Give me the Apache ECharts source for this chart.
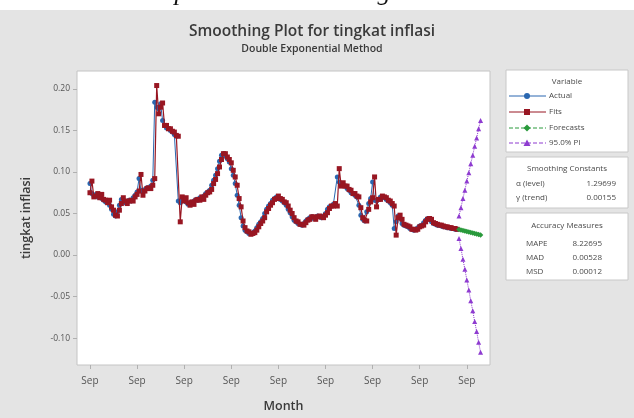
<!DOCTYPE html>
<html>
<head>
<meta charset="utf-8">
<script src="https://cdn.jsdelivr.net/npm/echarts@6/dist/echarts.min.js"></script>
<style>
  html, body { margin: 0; padding: 0; background: #ffffff; }
  #chart { width: 634px; height: 418px; }
</style>
</head>
<body>
<div id="chart"></div>
<script>
// Monthly inflation rate (tingkat inflasi), index 1..188, then 12 forecast months
const actual = [
  0.086, 0.074, 0.071, 0.073, 0.070, 0.072, 0.068, 0.066, 0.064, 0.065,
  0.060, 0.055, 0.049, 0.047, 0.052, 0.060, 0.067, 0.066, 0.063, 0.064,
  0.066, 0.065, 0.069, 0.072, 0.076, 0.092, 0.078, 0.076, 0.079, 0.081,
  0.080, 0.083, 0.090, 0.184, 0.178, 0.176, 0.182, 0.162, 0.156, 0.153,
  0.152, 0.150, 0.148, 0.145, 0.143, 0.065, 0.063, 0.066, 0.068, 0.064,
  0.061, 0.063, 0.062, 0.065, 0.067, 0.066, 0.069, 0.068, 0.071, 0.074,
  0.076, 0.078, 0.084, 0.090, 0.096, 0.104, 0.113, 0.120, 0.122, 0.119,
  0.116, 0.112, 0.104, 0.096, 0.086, 0.072, 0.060, 0.045, 0.035, 0.030,
  0.028, 0.026, 0.026, 0.027, 0.029, 0.033, 0.037, 0.040, 0.044, 0.050,
  0.055, 0.059, 0.062, 0.066, 0.068, 0.070, 0.069, 0.067, 0.065, 0.063,
  0.060, 0.055, 0.051, 0.046, 0.042, 0.040, 0.038, 0.037, 0.036, 0.038,
  0.041, 0.043, 0.045, 0.046, 0.044, 0.045, 0.047, 0.046, 0.045, 0.047,
  0.050, 0.055, 0.058, 0.059, 0.061, 0.060, 0.094, 0.088, 0.086, 0.084,
  0.083, 0.080, 0.078, 0.075, 0.074, 0.072, 0.070, 0.060, 0.048, 0.043,
  0.041, 0.052, 0.062, 0.068, 0.088, 0.066, 0.065, 0.067, 0.070, 0.070,
  0.069, 0.067, 0.065, 0.063, 0.060, 0.032, 0.040, 0.047, 0.044, 0.038,
  0.036, 0.035, 0.034, 0.032, 0.031, 0.030, 0.031, 0.033, 0.035, 0.036,
  0.039, 0.042, 0.044, 0.043, 0.040, 0.038, 0.037, 0.036, 0.036, 0.035,
  0.034, 0.034, 0.033, 0.033, 0.032, 0.032, 0.031, 0.031
];

const fits = [
  0.075, 0.089, 0.070, 0.071, 0.074, 0.069, 0.073, 0.067, 0.066, 0.063,
  0.066, 0.058, 0.054, 0.048, 0.047, 0.054, 0.062, 0.069, 0.065, 0.062,
  0.065, 0.066, 0.065, 0.070, 0.073, 0.077, 0.097, 0.072, 0.077, 0.080,
  0.081, 0.080, 0.084, 0.092, 0.204, 0.170, 0.178, 0.183, 0.156, 0.156,
  0.152, 0.152, 0.149, 0.148, 0.144, 0.143, 0.040, 0.070, 0.065, 0.069,
  0.063, 0.060, 0.064, 0.061, 0.066, 0.067, 0.066, 0.070, 0.067, 0.072,
  0.075, 0.076, 0.079, 0.086, 0.091, 0.098, 0.106, 0.115, 0.122, 0.122,
  0.118, 0.115, 0.111, 0.102, 0.094, 0.084, 0.068, 0.058, 0.041, 0.033,
  0.029, 0.028, 0.025, 0.026, 0.027, 0.030, 0.034, 0.038, 0.041, 0.045,
  0.052, 0.056, 0.060, 0.063, 0.067, 0.068, 0.071, 0.068, 0.067, 0.064,
  0.063, 0.059, 0.054, 0.050, 0.045, 0.041, 0.040, 0.037, 0.037, 0.036,
  0.039, 0.042, 0.043, 0.046, 0.046, 0.043, 0.046, 0.047, 0.046, 0.045,
  0.048, 0.051, 0.056, 0.059, 0.059, 0.062, 0.059, 0.104, 0.083, 0.087,
  0.083, 0.083, 0.079, 0.078, 0.074, 0.074, 0.071, 0.070, 0.057, 0.045,
  0.042, 0.041, 0.055, 0.064, 0.069, 0.094, 0.058, 0.067, 0.067, 0.071,
  0.070, 0.069, 0.066, 0.065, 0.062, 0.059, 0.024, 0.045, 0.048, 0.043,
  0.037, 0.036, 0.035, 0.034, 0.031, 0.031, 0.030, 0.031, 0.034, 0.035,
  0.036, 0.040, 0.043, 0.044, 0.043, 0.039, 0.038, 0.037, 0.036, 0.036,
  0.035, 0.034, 0.034, 0.033, 0.033, 0.032, 0.032, 0.031
];

const forecasts = [0.0308, 0.0302, 0.0296, 0.0290, 0.0284, 0.0278, 0.0272, 0.0266, 0.0260, 0.0254, 0.0248, 0.0242];
const piUpper   = [0.047, 0.057, 0.068, 0.078, 0.089, 0.099, 0.110, 0.120, 0.131, 0.141, 0.152, 0.162];
const piLower   = [0.020, 0.008, -0.005, -0.017, -0.030, -0.042, -0.055, -0.067, -0.080, -0.092, -0.105, -0.117];

// Time axis: a "Sep" label every 24 months
const xTickPositions = [1, 25, 49, 73, 97, 121, 145, 169, 193];
const xTickLabels = ['Sep', 'Sep', 'Sep', 'Sep', 'Sep', 'Sep', 'Sep', 'Sep', 'Sep'];
const yTicks = [-0.10, -0.05, 0.00, 0.05, 0.10, 0.15, 0.20];

const smoothingConstants = [['α (level)', '1.29699'], ['γ (trend)', '0.00155']];
const accuracyMeasures = [['MAPE', '8.22695'], ['MAD', '0.00528'], ['MSD', '0.00012']];

const C_ACTUAL = '#2a67b0';
const C_FITS = '#981622';
const C_FC = '#2a9a3c';
const C_PI = '#8e3bd0';
const TXT = '#4a4a4a';

const nObs = actual.length;
const actualData = actual.map((v, i) => [i + 1, v]);
const fitsData = fits.map((v, i) => [i + 1, v]);
const fcData = forecasts.map((v, i) => [nObs + 1 + i, v]);
const upData = piUpper.map((v, i) => [nObs + 1 + i, v]);
const loData = piLower.map((v, i) => [nObs + 1 + i, v]);

const chart = echarts.init(document.getElementById('chart'));

const FONT = "'Open Sans', 'Noto Sans', sans-serif";

// Legend panel pieces
const LX = 506, LW = 122;
const graphics = [];
// grey page
graphics.push({ type: 'rect', z: -10, silent: true, shape: { x: 0, y: 10, width: 634, height: 408 }, style: { fill: '#e4e4e4' } });
// caption above the panel
graphics.push({ type: 'text', z: 5, x: 310, y: 6, style: { text: 'Plot Exponential Smoothing Holt Winter.', font: "italic 26px 'Liberation Serif', serif", fill: '#111', align: 'center', verticalAlign: 'bottom' } });
// titles
graphics.push({ type: 'text', x: 312, y: 32, style: { text: 'Smoothing Plot for tingkat inflasi', font: "600 15.5px " + FONT, fill: '#3a3a3a', align: 'center', verticalAlign: 'middle' } });
graphics.push({ type: 'text', x: 312, y: 49, style: { text: 'Double Exponential Method', font: "600 10.5px " + FONT, fill: '#3a3a3a', align: 'center', verticalAlign: 'middle' } });

// Variable box
graphics.push({ type: 'rect', shape: { x: LX, y: 70, width: LW, height: 82 }, style: { fill: '#fff', stroke: '#c8c8c8', lineWidth: 1 } });
graphics.push({ type: 'text', x: LX + LW / 2, y: 82, style: { text: 'Variable', font: '8px ' + FONT, fill: TXT, align: 'center', verticalAlign: 'middle' } });
const legendRows = [
  { name: 'Actual', color: C_ACTUAL, dash: null, sym: 'circle', y: 96 },
  { name: 'Fits', color: C_FITS, dash: null, sym: 'rect', y: 112 },
  { name: 'Forecasts', color: C_FC, dash: [4, 2], sym: 'diamond', y: 128 },
  { name: '95.0% PI', color: C_PI, dash: [4, 2], sym: 'triangle', y: 143 }
];
legendRows.forEach(r => {
  graphics.push({ type: 'line', shape: { x1: LX + 3, y1: r.y, x2: LX + 40, y2: r.y }, style: { stroke: r.color, lineWidth: 1, lineDash: r.dash } });
  const cx = LX + 21, cy = r.y;
  if (r.sym === 'circle') graphics.push({ type: 'circle', shape: { cx, cy, r: 3 }, style: { fill: r.color } });
  if (r.sym === 'rect') graphics.push({ type: 'rect', shape: { x: cx - 3, y: cy - 3, width: 6, height: 6 }, style: { fill: r.color } });
  if (r.sym === 'diamond') graphics.push({ type: 'polygon', shape: { points: [[cx, cy - 3.5], [cx + 3.5, cy], [cx, cy + 3.5], [cx - 3.5, cy]] }, style: { fill: r.color } });
  if (r.sym === 'triangle') graphics.push({ type: 'polygon', shape: { points: [[cx, cy - 3.5], [cx + 3.5, cy + 3], [cx - 3.5, cy + 3]] }, style: { fill: r.color } });
  graphics.push({ type: 'text', x: LX + 43, y: r.y, style: { text: r.name, font: '8px ' + FONT, fill: TXT, align: 'left', verticalAlign: 'middle' } });
});

// Smoothing constants box
graphics.push({ type: 'rect', shape: { x: LX, y: 157, width: LW, height: 51 }, style: { fill: '#fff', stroke: '#c8c8c8', lineWidth: 1 } });
graphics.push({ type: 'text', x: LX + LW / 2, y: 169, style: { text: 'Smoothing Constants', font: '8px ' + FONT, fill: TXT, align: 'center', verticalAlign: 'middle' } });
smoothingConstants.forEach((row, k) => {
  const y = 184 + k * 14;
  graphics.push({ type: 'text', x: LX + 10, y, style: { text: row[0], font: '8px ' + FONT, fill: TXT, align: 'left', verticalAlign: 'middle' } });
  graphics.push({ type: 'text', x: LX + 110, y, style: { text: row[1], font: '8px ' + FONT, fill: TXT, align: 'right', verticalAlign: 'middle' } });
});

// Accuracy measures box
graphics.push({ type: 'rect', shape: { x: LX, y: 213, width: LW, height: 67 }, style: { fill: '#fff', stroke: '#c8c8c8', lineWidth: 1 } });
graphics.push({ type: 'text', x: LX + LW / 2, y: 226, style: { text: 'Accuracy Measures', font: '8px ' + FONT, fill: TXT, align: 'center', verticalAlign: 'middle' } });
accuracyMeasures.forEach((row, k) => {
  const y = 244 + k * 14;
  graphics.push({ type: 'text', x: LX + 20, y, style: { text: row[0], font: '8px ' + FONT, fill: TXT, align: 'left', verticalAlign: 'middle' } });
  graphics.push({ type: 'text', x: LX + 96, y, style: { text: row[1], font: '8px ' + FONT, fill: TXT, align: 'right', verticalAlign: 'middle' } });
});

const option = {
  animation: false,
  backgroundColor: '#ffffff',
  grid: {
    left: 77, right: 144, top: 71, bottom: 51,
    show: true, backgroundColor: '#ffffff', borderColor: '#c4c4c4', borderWidth: 1
  },
  xAxis: {
    type: 'value', min: -5.6, max: 204.8,
    name: 'Month', nameLocation: 'middle', nameGap: 35,
    nameTextStyle: { fontFamily: FONT, fontWeight: 600, fontSize: 12.5, color: '#3a3a3a' },
    axisLine: { show: false, onZero: false },
    splitLine: { show: false },
    axisTick: { show: true, customValues: xTickPositions, length: 4, lineStyle: { color: '#b0b0b0' } },
    axisLabel: {
      customValues: xTickPositions,
      formatter: v => xTickLabels[xTickPositions.indexOf(Math.round(v))] || '',
      fontFamily: FONT, fontSize: 10, color: '#555', margin: 11
    }
  },
  yAxis: {
    type: 'value', min: -0.1323, max: 0.2215,
    name: 'tingkat inflasi', nameLocation: 'middle', nameGap: 44, nameRotate: 90,
    nameTextStyle: { fontFamily: FONT, fontWeight: 600, fontSize: 12.5, color: '#3a3a3a' },
    axisLine: { show: false, onZero: false },
    splitLine: { show: false },
    axisTick: { show: true, customValues: yTicks, length: 4, lineStyle: { color: '#b0b0b0' } },
    axisLabel: {
      customValues: yTicks,
      formatter: v => v.toFixed(2),
      fontFamily: FONT, fontSize: 8.5, color: '#555', margin: 7
    }
  },
  series: [
    {
      name: 'Actual', type: 'line', data: actualData, z: 2,
      symbol: 'circle', symbolSize: 5,
      lineStyle: { color: C_ACTUAL, width: 1 }, itemStyle: { color: C_ACTUAL }
    },
    {
      name: 'Fits', type: 'line', data: fitsData, z: 3,
      symbol: 'rect', symbolSize: 5,
      lineStyle: { color: C_FITS, width: 1.2 }, itemStyle: { color: C_FITS }
    },
    {
      name: 'Forecasts', type: 'line', data: fcData, z: 4,
      symbol: 'diamond', symbolSize: 5.5,
      lineStyle: { color: C_FC, width: 1, type: 'dashed' }, itemStyle: { color: C_FC }
    },
    {
      name: 'Upper 95% PI', type: 'line', data: upData, z: 4,
      symbol: 'triangle', symbolSize: 5,
      lineStyle: { color: C_PI, width: 1, type: 'dotted' }, itemStyle: { color: C_PI }
    },
    {
      name: 'Lower 95% PI', type: 'line', data: loData, z: 4,
      symbol: 'triangle', symbolSize: 5,
      lineStyle: { color: C_PI, width: 1, type: 'dotted' }, itemStyle: { color: C_PI }
    }
  ],
  graphic: graphics
};

chart.setOption(option);
</script>
</body>
</html>
